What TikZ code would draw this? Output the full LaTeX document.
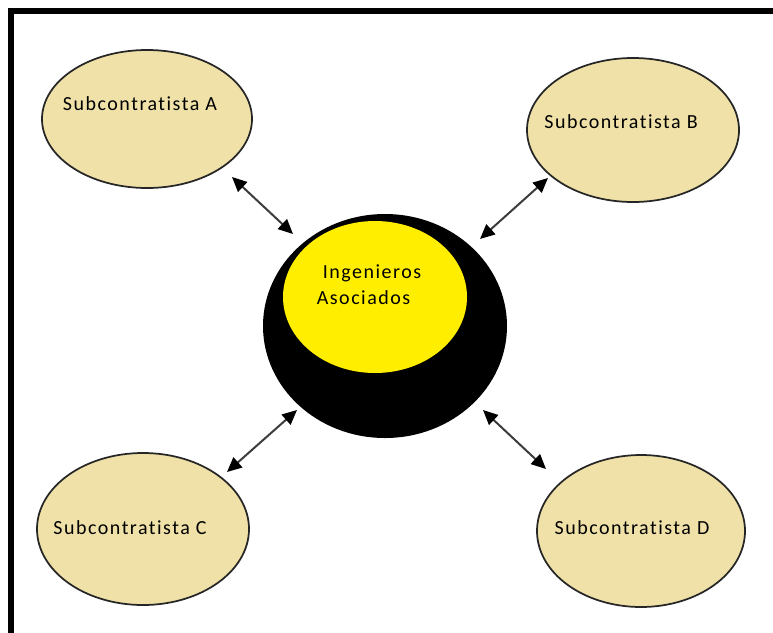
\documentclass[tikz,border=0pt]{standalone}
\usepackage{fontspec}
\setmainfont{Carlito}[LetterSpace=7.5, Ligatures={NoCommon}]
\usetikzlibrary{shapes.geometric,arrows.meta}

\definecolor{tan}{RGB}{239,225,168}
\definecolor{hubyellow}{RGB}{255,238,0}
\definecolor{shaft}{RGB}{60,60,60}

\tikzset{
  sub/.style={ellipse, draw=black!85, line width=1.3pt, fill=tan, inner sep=0pt},
  caption/.style={font=\fontsize{15}{18}\selectfont},
  link/.style={draw=shaft, line width=1.5pt,
    {Triangle[length=11pt,width=10pt,fill=black,color=black]}-{Triangle[length=11pt,width=10pt,fill=black,color=black]}},
}

\begin{document}
\begin{tikzpicture}[x=0.75pt,y=-0.75pt]
\useasboundingbox (0,0) rectangle (773,632);
\clip (0,0) rectangle (773,632);

% outer frame (only the top and left sides fall inside the page)
\draw[line width=4.5pt, line join=miter] (11,660) -- (11,11) -- (800,11);

% subcontractors
\node[sub, minimum width=157.5pt, minimum height=103.5pt] (A) at (147,119) {};
\node[sub, minimum width=159pt, minimum height=108pt] (B) at (633,130) {};
\node[sub, minimum width=159pt, minimum height=114pt] (C) at (143,529) {};
\node[sub, minimum width=156pt, minimum height=114pt] (D) at (641,531) {};

\node[caption] (At) at (140,104) {Subcontratista A};
\node[caption] (Bt) at (621,122) {Subcontratista B};
\node[caption] (Ct) at (130,528) {Subcontratista C};
\node[caption] (Dt) at (632,528) {Subcontratista D};

% central company
\node[ellipse, fill=black, minimum width=183pt, minimum height=168pt, inner sep=0pt] (hub) at (385,326) {};
\node[ellipse, fill=hubyellow, minimum width=138pt, minimum height=114pt, inner sep=0pt] (core) at (375,297) {};
\node[caption, align=left, inner sep=0pt] (ht) at (369,285)
  {\hspace*{4.5pt}Ingenieros\\[1.5pt]Asociados};

% arrow end points
\coordinate (a1) at (232,177); \coordinate (a2) at (293,234);
\coordinate (b1) at (548,178); \coordinate (b2) at (480,239);
\coordinate (c1) at (227,472); \coordinate (c2) at (297,410);
\coordinate (d1) at (546,469); \coordinate (d2) at (483,410);

\draw[link] (a1) -- (a2);
\draw[link] (b1) -- (b2);
\draw[link] (c1) -- (c2);
\draw[link] (d1) -- (d2);
\end{tikzpicture}
\end{document}
